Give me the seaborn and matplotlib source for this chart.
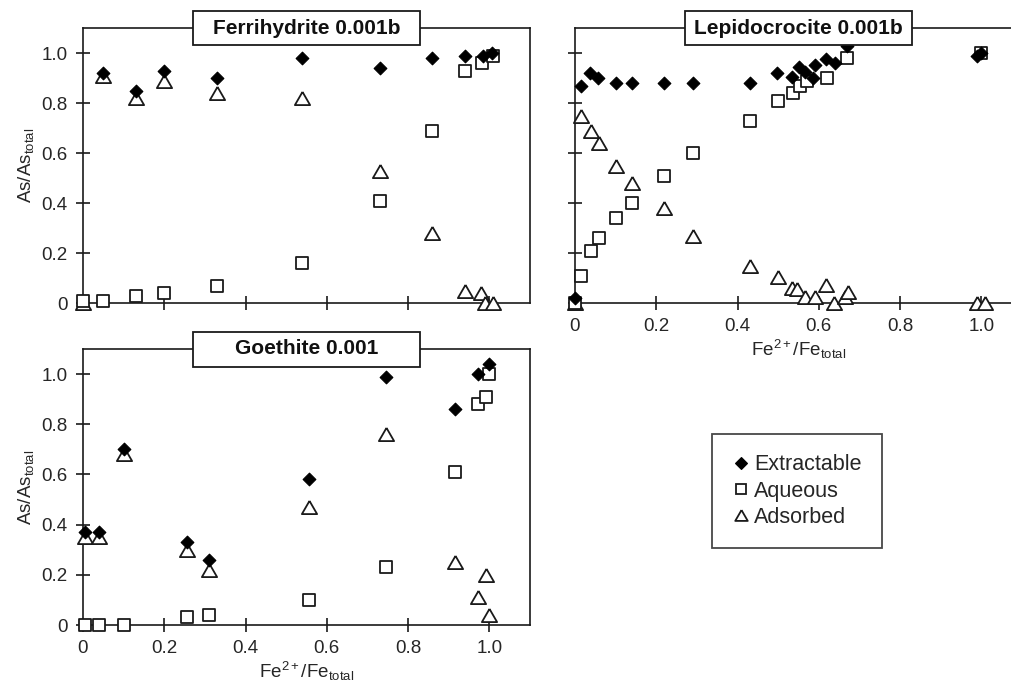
import matplotlib
matplotlib.use("Agg")
import matplotlib.pyplot as plt
from matplotlib.patches import Rectangle
from matplotlib.lines import Line2D
import seaborn as sns
import numpy as np

# ---------------- data ----------------
fh_ext_x = [0.05, 0.13, 0.20, 0.33, 0.54, 0.73, 0.86, 0.94, 0.985, 1.007]
fh_ext_y = [0.92, 0.85, 0.93, 0.90, 0.98, 0.94, 0.98, 0.99, 0.99, 1.00]
fh_aq_x = [0.0, 0.05, 0.13, 0.20, 0.33, 0.54, 0.73, 0.86, 0.94, 0.983, 1.01]
fh_aq_y = [0.01, 0.01, 0.03, 0.04, 0.07, 0.16, 0.41, 0.69, 0.93, 0.96, 0.99]
fh_ad_x = [0.0, 0.05, 0.13, 0.20, 0.33, 0.54, 0.73, 0.86, 0.94, 0.98, 0.99, 1.01]
fh_ad_y = [0.0, 0.91, 0.82, 0.89, 0.84, 0.82, 0.53, 0.28, 0.05, 0.04, 0.0, 0.0]

lp_ext_x = [0.0, 0.014, 0.037, 0.057, 0.10, 0.14, 0.22, 0.29, 0.43, 0.497, 0.533,
            0.551, 0.566, 0.585, 0.59, 0.617, 0.639, 0.669, 0.99, 1.0]
lp_ext_y = [0.02, 0.87, 0.92, 0.90, 0.88, 0.88, 0.88, 0.88, 0.88, 0.92, 0.905,
            0.945, 0.925, 0.90, 0.953, 0.977, 0.96, 1.03, 0.99, 1.00]
lp_aq_x = [0.0, 0.015, 0.039, 0.058, 0.10, 0.14, 0.22, 0.29, 0.43, 0.50, 0.536,
           0.553, 0.57, 0.62, 0.669, 1.0]
lp_aq_y = [0.0, 0.11, 0.21, 0.26, 0.34, 0.40, 0.51, 0.60, 0.73, 0.81, 0.84,
           0.87, 0.89, 0.90, 0.98, 1.0]
lp_ad_x = [0.0, 0.015, 0.039, 0.058, 0.10, 0.14, 0.22, 0.29, 0.43, 0.499, 0.533,
           0.546, 0.565, 0.59, 0.617, 0.637, 0.664, 0.671, 0.99, 1.01]
lp_ad_y = [0.0, 0.75, 0.69, 0.64, 0.55, 0.48, 0.38, 0.27, 0.15, 0.105, 0.06,
           0.057, 0.026, 0.026, 0.073, 0.0, 0.025, 0.046, 0.0, 0.0]

gt_ext_x = [0.004, 0.04, 0.10, 0.256, 0.31, 0.555, 0.746, 0.916, 0.973, 0.998]
gt_ext_y = [0.37, 0.37, 0.70, 0.33, 0.26, 0.58, 0.99, 0.86, 1.00, 1.04]
gt_aq_x = [0.004, 0.04, 0.10, 0.256, 0.31, 0.555, 0.746, 0.916, 0.973, 0.992, 0.998]
gt_aq_y = [0.0, 0.0, 0.0, 0.03, 0.04, 0.10, 0.23, 0.61, 0.88, 0.91, 1.0]
gt_ad_x = [0.004, 0.04, 0.10, 0.256, 0.31, 0.555, 0.746, 0.916, 0.973, 0.992, 0.998]
gt_ad_y = [0.35, 0.35, 0.68, 0.30, 0.22, 0.47, 0.76, 0.25, 0.11, 0.20, 0.04]

titles = ["Ferrihydrite 0.001b", "Lepidocrocite 0.001b", "Goethite 0.001"]
series_names = ["Extractable", "Aqueous", "Adsorbed"]
tick_vals = [0, 0.2, 0.4, 0.6, 0.8, 1.0]
tick_labels = ["0", "0.2", "0.4", "0.6", "0.8", "1.0"]

# ---------------- style ----------------
sns.set_style("ticks")
plt.rcParams["font.family"] = ["Liberation Sans", "DejaVu Sans"]
plt.rcParams["mathtext.fontset"] = "custom"
plt.rcParams["mathtext.rm"] = "Liberation Sans"
plt.rcParams["mathtext.it"] = "Liberation Sans:italic"
plt.rcParams["mathtext.bf"] = "Liberation Sans:bold"

TRI = [(0, 0.866), (-1, -0.866), (1, -0.866), (0, 0.866)]
styles = {
    "Extractable": dict(marker="D", s=42, facecolor="black", edgecolor="black", linewidth=0.8),
    "Aqueous": dict(marker="s", s=72, facecolor="white", edgecolor="#1a1a1a", linewidth=1.3),
    "Adsorbed": dict(marker=TRI, s=120, facecolor="white", edgecolor="#1a1a1a", linewidth=1.3),
}
legend_ms = {"Extractable": 6.2, "Aqueous": 7.2, "Adsorbed": 9.0}
order = ["Adsorbed", "Aqueous", "Extractable"]

fig = plt.figure(figsize=(10.11, 6.88), dpi=100)
W, H = 1011, 688
def pos(l, t, r, b):
    return [l / W, 1 - b / H, (r - l) / W, (b - t) / H]

ax1 = fig.add_axes(pos(83, 28, 530, 303))
ax2 = fig.add_axes(pos(575, 28, 1022, 303))
ax3 = fig.add_axes(pos(83, 349, 530, 625))

panels = [
    (ax1, {"Extractable": (fh_ext_x, fh_ext_y), "Aqueous": (fh_aq_x, fh_aq_y), "Adsorbed": (fh_ad_x, fh_ad_y)}),
    (ax2, {"Extractable": (lp_ext_x, lp_ext_y), "Aqueous": (lp_aq_x, lp_aq_y), "Adsorbed": (lp_ad_x, lp_ad_y)}),
    (ax3, {"Extractable": (gt_ext_x, gt_ext_y), "Aqueous": (gt_aq_x, gt_aq_y), "Adsorbed": (gt_ad_x, gt_ad_y)}),
]

for i, (ax, data) in enumerate(panels):
    for name in order:
        x, y = data[name]
        st = styles[name]
        sns.scatterplot(x=x, y=y, ax=ax, marker=st["marker"], s=st["s"],
                        color=st["facecolor"], edgecolor=st["edgecolor"],
                        linewidth=st["linewidth"], clip_on=False, zorder=5,
                        legend=False)
    ax.set_xlim(0, 1.1)
    ax.set_ylim(0, 1.1)
    ax.set_xticks(tick_vals)
    ax.set_yticks(tick_vals)
    for sp in ax.spines.values():
        sp.set_linewidth(1.2)
        sp.set_color("#1a1a1a")
        sp.set_visible(True)
    ax.tick_params(direction="inout", length=10, width=1.2, color="#1a1a1a",
                   labelsize=13.5, pad=6, top=False, right=False)
    ax.set_xlabel("")
    ax.set_ylabel("")
    # title box
    ax.add_patch(Rectangle((0.5 - 0.254, 1 - 0.0636), 0.508, 0.127,
                           transform=ax.transAxes, facecolor="white",
                           edgecolor="#1a1a1a", linewidth=1.3, clip_on=False, zorder=10))
    ax.text(0.5, 1.0, titles[i], transform=ax.transAxes, ha="center", va="center",
            fontsize=15, fontweight="bold", zorder=11, color="#111111")

ax1.set_xticklabels([])
ax1.set_yticklabels(tick_labels)
ax2.set_yticklabels([])
ax2.set_xticklabels(tick_labels)
ax3.set_xticklabels(tick_labels)
ax3.set_yticklabels(tick_labels)
ax2.spines["right"].set_visible(False)

ylab = r"As/As$_{\mathrm{total}}$"
xlab = r"Fe$^{\mathrm{2+}}$/Fe$_{\mathrm{total}}$"
ax1.set_ylabel(ylab, fontsize=13.5, labelpad=4)
ax3.set_ylabel(ylab, fontsize=13.5, labelpad=4)
ax2.set_xlabel(xlab, fontsize=13.5, labelpad=2)
ax3.set_xlabel(xlab, fontsize=13.5, labelpad=2)

handles = []
for name in series_names:
    st = styles[name]
    handles.append(Line2D([], [], linestyle="none", marker=st["marker"],
                          markersize=legend_ms[name],
                          markerfacecolor=st["facecolor"], markeredgecolor=st["edgecolor"],
                          markeredgewidth=st["linewidth"], label=name))
leg = fig.legend(handles=handles, loc="upper left", bbox_to_anchor=(712 / W, 1 - 434 / H),
                 fontsize=15.5, frameon=True, fancybox=False, borderpad=0.95,
                 handlelength=0.8, handletextpad=0.2, labelspacing=0.24,
                 borderaxespad=0)
leg.get_frame().set_edgecolor("#1a1a1a")
leg.get_frame().set_linewidth(1.3)

fig.savefig("out.png", dpi=100)
